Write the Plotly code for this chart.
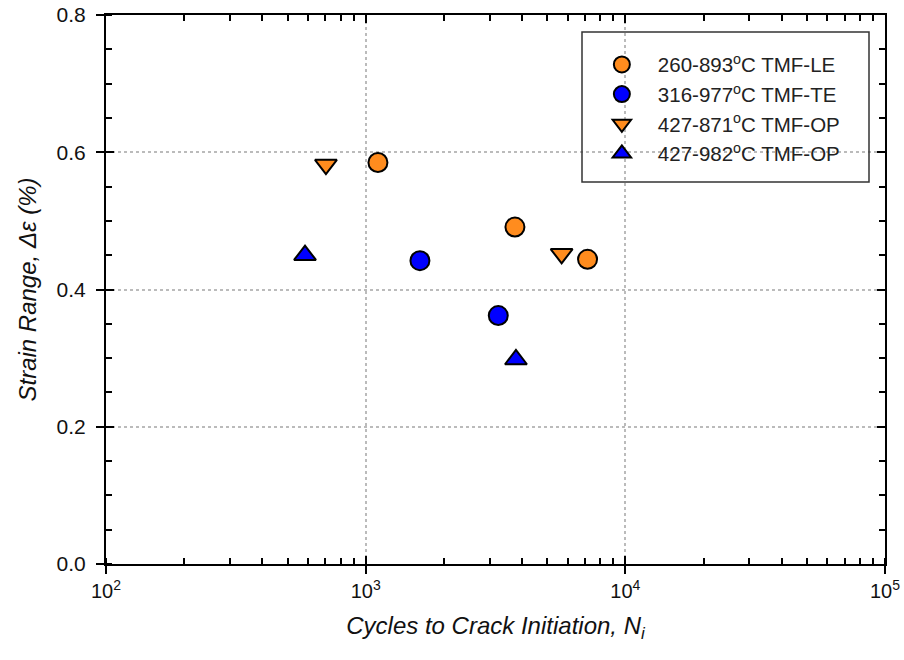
import plotly.graph_objects as go

# ---- data ----
le_x = [1115, 3757, 7153]
le_y = [0.585, 0.491, 0.444]
te_x = [1618, 3241]
te_y = [0.442, 0.362]
op871_x = [703, 5684]
op871_y = [0.582, 0.452]
op982_x = [584, 3791]
op982_y = [0.450, 0.298]

names = ["260-893<sup>o</sup>C TMF-LE", "316-977<sup>o</sup>C TMF-TE",
         "427-871<sup>o</sup>C TMF-OP", "427-982<sup>o</sup>C TMF-OP"]
x_tickvals = [100, 1000, 10000, 100000]
x_ticktext = ["10<sup>2</sup>", "10<sup>3</sup>", "10<sup>4</sup>", "10<sup>5</sup>"]
y_tickvals = [0.0, 0.2, 0.4, 0.6, 0.8]
y_ticktext = ["0.0", "0.2", "0.4", "0.6", "0.8"]

ORANGE = "#FF8C1E"
BLUE = "#0000FF"
FONT = "Arial, Liberation Sans, sans-serif"

fig = go.Figure()
series = [
    (le_x, le_y, "circle", ORANGE),
    (te_x, te_y, "circle", BLUE),
    (op871_x, op871_y, "triangle-down", ORANGE),
    (op982_x, op982_y, "triangle-up", BLUE),
]
for i, (xs, ys, sym, col) in enumerate(series):
    fig.add_trace(go.Scatter(
        x=xs, y=ys, mode="markers", name=names[i], legendgroup=f"g{i}",
        marker=dict(symbol=sym, size=19, color=col,
                    line=dict(color="black", width=2)),
        xaxis="x", yaxis="y",
    ))

axis_common = dict(showline=True, linecolor="black", linewidth=2,
                   zeroline=False, automargin=False)

fig.update_layout(
    width=904, height=660,
    margin=dict(l=106, r=19, t=15, b=96),
    plot_bgcolor="white", paper_bgcolor="white",
    font=dict(family=FONT, size=20, color="#111111"),
    showlegend=True,
    legend=dict(x=0.616, y=0.946, xanchor="left", yanchor="top",
                bgcolor="rgba(0,0,0,0)", borderwidth=0,
                font=dict(family=FONT, size=20.5, color="#222222"),
                tracegroupgap=0, itemwidth=62),
    xaxis=dict(type="log", range=[2, 5], tickvals=x_tickvals, ticktext=x_ticktext,
               ticks="outside", ticklen=8, tickwidth=2, tickcolor="black",
               tickfont=dict(size=20),
               showgrid=True, gridcolor="#BBBBBB", gridwidth=1.5, griddash="dot",
               minor=dict(ticks="inside", ticklen=6, tickwidth=1.5, tickcolor="black",
                          showgrid=False, dtick="D1"),
               title=dict(text="<i>Cycles to Crack Initiation, N<sub>i</sub></i>",
                          font=dict(size=24), standoff=16),
               **axis_common),
    xaxis2=dict(type="log", range=[2, 5], overlaying="x", side="top", anchor="y",
                tickvals=x_tickvals, showticklabels=False,
                ticks="inside", ticklen=8, tickwidth=2, tickcolor="black",
                showgrid=False,
                minor=dict(ticks="inside", ticklen=6, tickwidth=1.5, tickcolor="black",
                           showgrid=False, dtick="D1"),
                **axis_common),
    xaxis3=dict(type="log", range=[2, 5], overlaying="x", side="bottom", anchor="y",
                tickvals=x_tickvals, showticklabels=False,
                ticks="inside", ticklen=8, tickwidth=2, tickcolor="black",
                showgrid=False, **axis_common),
    yaxis=dict(range=[0, 0.8], tickvals=y_tickvals, ticktext=y_ticktext,
               ticks="outside", ticklen=8, tickwidth=2, tickcolor="black",
               tickfont=dict(size=21), ticklabelstandoff=6,
               showgrid=True, gridcolor="#BBBBBB", gridwidth=1.5, griddash="dot",
               minor=dict(ticks="inside", ticklen=6, tickwidth=1.5, tickcolor="black",
                          showgrid=False, dtick=0.05),
               title=dict(text="<i>Strain Range, Δε (%)</i>", font=dict(size=24),
                          standoff=13),
               **axis_common),
    yaxis2=dict(range=[0, 0.8], overlaying="y", side="right", anchor="x",
                tickvals=y_tickvals, showticklabels=False,
                ticks="inside", ticklen=8, tickwidth=2, tickcolor="black",
                showgrid=False,
                minor=dict(ticks="inside", ticklen=6, tickwidth=1.5, tickcolor="black",
                           showgrid=False, dtick=0.05),
                **axis_common),
    yaxis3=dict(range=[0, 0.8], overlaying="y", side="left", anchor="x",
                tickvals=y_tickvals, showticklabels=False,
                ticks="inside", ticklen=8, tickwidth=2, tickcolor="black",
                showgrid=False, **axis_common),
)

# invisible traces to activate overlay axes
for xa, ya in [("x2", "y2"), ("x3", "y3")]:
    fig.add_trace(go.Scatter(x=[100], y=[0], mode="markers", xaxis=xa, yaxis=ya,
                             marker=dict(opacity=0), showlegend=False,
                             hoverinfo="skip"))

# legend frame
fig.add_shape(type="rect", xref="paper", yref="paper",
              x0=(582 - 106) / 779, x1=(869 - 106) / 779,
              y0=(564 - 182) / 549, y1=(564 - 32) / 549,
              line=dict(color="#333333", width=1.5), fillcolor="rgba(0,0,0,0)",
              layer="above")

fig.write_html("out.html")
